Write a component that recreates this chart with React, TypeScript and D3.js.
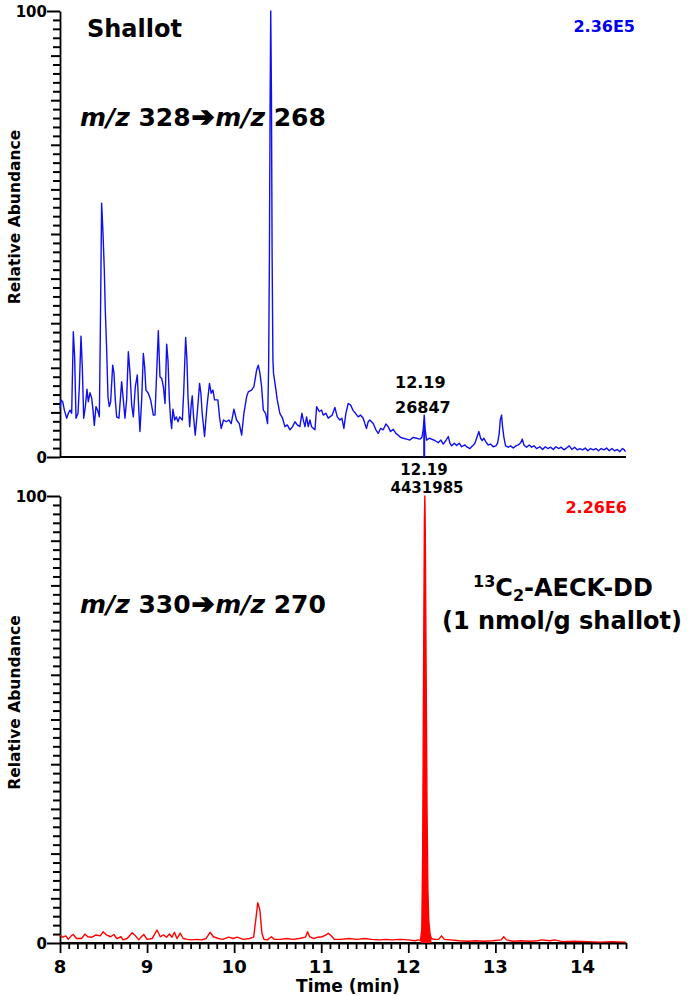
import React, { useEffect, useRef } from "react";
import * as d3 from "d3";

// ---------- DATA ----------
// Top chromatogram: m/z 328 -> m/z 268 (Shallot), [time (min), relative abundance %]
const topTrace: [number, number][] = [
  [8.0, 10.9], [8.011, 12.8], [8.031, 12.4], [8.05, 10.5], [8.077, 8.7], [8.096, 9.8], [8.115, 10.5], [8.134, 9.8],
  [8.153, 28.1], [8.168, 22.5], [8.184, 8.7], [8.207, 9.8], [8.222, 15.8], [8.241, 27.1], [8.256, 20.3], [8.272, 8.7],
  [8.291, 11.3], [8.31, 15.2], [8.325, 12.4], [8.344, 14.4], [8.364, 13.2], [8.379, 10.5], [8.394, 7.1], [8.413, 11.3],
  [8.432, 10.5], [8.452, 9.0], [8.463, 27.7], [8.478, 56.9], [8.494, 50.1], [8.509, 41.9], [8.52, 33.0], [8.536, 24.0],
  [8.551, 13.5], [8.566, 11.3], [8.582, 12.4], [8.605, 20.6], [8.62, 18.8], [8.635, 12.8], [8.651, 9.0], [8.677, 8.7],
  [8.708, 16.9], [8.727, 12.8], [8.746, 8.7], [8.765, 12.8], [8.785, 23.6], [8.804, 18.8], [8.823, 11.7], [8.842, 9.0],
  [8.865, 15.8], [8.888, 18.4], [8.903, 11.3], [8.918, 5.7], [8.938, 12.8], [8.957, 23.2], [8.972, 20.3], [8.987, 15.0],
  [9.014, 14.3], [9.041, 12.8], [9.072, 9.4], [9.091, 9.4], [9.11, 18.8], [9.129, 28.3], [9.148, 18.0], [9.168, 17.6],
  [9.187, 15.8], [9.206, 12.0], [9.225, 25.3], [9.24, 21.7], [9.256, 12.8], [9.271, 8.3], [9.282, 6.4], [9.297, 10.7],
  [9.317, 8.3], [9.336, 9.0], [9.355, 7.9], [9.374, 9.0], [9.405, 8.3], [9.42, 14.3], [9.443, 26.8], [9.458, 21.7],
  [9.47, 13.5], [9.489, 6.8], [9.508, 12.0], [9.519, 13.7], [9.534, 9.0], [9.553, 4.9], [9.576, 9.8], [9.603, 16.5],
  [9.618, 14.3], [9.633, 9.8], [9.66, 4.6], [9.687, 11.3], [9.717, 16.5], [9.736, 14.3], [9.756, 15.0], [9.775, 12.8],
  [9.813, 12.8], [9.832, 9.0], [9.851, 6.4], [9.878, 8.3], [9.909, 7.9], [9.94, 8.3], [9.966, 7.5], [9.997, 10.7],
  [10.028, 8.3], [10.059, 7.5], [10.086, 4.9], [10.112, 9.8], [10.143, 13.5], [10.162, 14.6], [10.2, 15.0], [10.227, 15.8],
  [10.258, 19.5], [10.277, 20.6], [10.296, 18.8], [10.315, 15.8], [10.335, 10.5], [10.361, 9.8], [10.384, 7.5],
  [10.396, 20.3], [10.405, 45.0], [10.413, 80.0], [10.42, 100.0], [10.428, 82.0], [10.436, 45.0], [10.445, 22.0],
  [10.452, 18.8], [10.48, 15.0], [10.495, 12.8], [10.525, 9.8], [10.556, 8.7], [10.583, 6.8], [10.61, 7.2], [10.641, 6.1],
  [10.671, 6.8], [10.698, 7.9], [10.725, 7.2], [10.755, 6.8], [10.778, 9.8], [10.794, 8.3], [10.813, 6.8], [10.832, 9.0],
  [10.851, 6.8], [10.87, 8.3], [10.889, 6.8], [10.928, 6.1], [10.947, 11.3], [10.977, 10.2], [11.004, 10.5], [11.023, 9.4],
  [11.054, 9.8], [11.08, 8.7], [11.099, 9.0], [11.126, 9.4], [11.157, 11.1], [11.184, 9.0], [11.214, 8.3], [11.237, 8.7],
  [11.26, 6.4], [11.283, 9.8], [11.31, 12.0], [11.336, 11.7], [11.367, 10.4], [11.394, 9.8], [11.424, 9.0], [11.451, 9.4],
  [11.482, 8.7], [11.501, 7.5], [11.52, 6.4], [11.539, 7.9], [11.558, 8.3], [11.597, 7.5], [11.628, 6.1], [11.655, 5.3],
  [11.681, 6.4], [11.712, 6.1], [11.743, 7.4], [11.769, 6.8], [11.796, 5.7], [11.827, 6.2], [11.857, 5.3], [11.884, 4.9],
  [11.911, 4.4], [11.942, 4.2], [11.98, 4.0], [12.018, 3.8], [12.056, 4.4], [12.095, 4.2], [12.133, 4.0], [12.156, 4.4],
  [12.171, 6.1], [12.183, 9.4], [12.194, 6.1], [12.21, 3.8], [12.24, 4.2], [12.267, 4.0], [12.305, 3.7], [12.344, 3.2],
  [12.374, 3.8], [12.401, 2.9], [12.432, 3.7], [12.459, 4.6], [12.478, 3.1], [12.497, 2.5], [12.528, 3.1], [12.555, 2.6],
  [12.585, 3.1], [12.612, 2.3], [12.65, 2.7], [12.677, 2.2], [12.708, 1.9], [12.738, 2.5], [12.765, 3.1], [12.791, 4.6],
  [12.811, 5.7], [12.83, 4.2], [12.849, 3.7], [12.868, 4.2], [12.891, 3.4], [12.918, 2.7], [12.944, 2.9], [12.975, 2.3],
  [13.006, 2.5], [13.025, 3.1], [13.044, 5.3], [13.056, 8.3], [13.071, 9.4], [13.082, 6.8], [13.098, 4.4], [13.117, 2.5],
  [13.148, 2.2], [13.175, 2.5], [13.205, 2.0], [13.236, 2.5], [13.263, 2.7], [13.29, 3.2], [13.309, 4.0], [13.328, 2.7],
  [13.358, 2.2], [13.389, 2.7], [13.416, 2.2], [13.443, 2.5], [13.473, 1.9], [13.511, 2.3], [13.542, 1.7], [13.573, 2.3],
  [13.603, 1.9], [13.634, 2.2], [13.665, 1.7], [13.695, 2.3], [13.726, 1.9], [13.756, 2.2], [13.787, 1.6], [13.817, 2.0],
  [13.848, 2.5], [13.879, 1.7], [13.909, 2.2], [13.94, 1.6], [13.97, 1.9], [14.001, 1.6], [14.032, 2.0], [14.062, 1.4],
  [14.093, 1.9], [14.124, 1.6], [14.154, 1.9], [14.185, 1.4], [14.215, 1.9], [14.246, 1.6], [14.277, 2.0], [14.307, 1.4],
  [14.338, 1.9], [14.368, 1.4], [14.399, 1.7], [14.43, 1.2], [14.46, 1.9], [14.48, 1.6], [14.494, 1.2],
];

// Bottom chromatogram: m/z 330 -> m/z 270 (13C2-AECK-DD internal standard)
const bottomTrace: [number, number][] = [
  [8.0, 1.8], [8.033, 1.3], [8.067, 1.6], [8.095, 0.8], [8.129, 1.6], [8.152, 1.9], [8.19, 1.0], [8.248, 1.0],
  [8.286, 2.0], [8.319, 1.4], [8.367, 1.3], [8.414, 1.8], [8.462, 1.6], [8.495, 2.5], [8.533, 1.8], [8.581, 1.4],
  [8.619, 1.9], [8.652, 1.0], [8.7, 1.4], [8.724, 0.7], [8.771, 1.0], [8.829, 2.3], [8.867, 1.6], [8.905, 0.7],
  [8.929, 1.3], [8.962, 1.9], [9.0, 0.8], [9.057, 1.0], [9.114, 2.9], [9.152, 1.4], [9.19, 1.8], [9.224, 1.3],
  [9.257, 2.0], [9.286, 1.3], [9.314, 2.4], [9.343, 1.0], [9.381, 2.2], [9.414, 1.0], [9.462, 0.8], [9.51, 0.7],
  [9.571, 0.8], [9.629, 0.7], [9.676, 1.0], [9.724, 2.4], [9.762, 1.4], [9.819, 1.0], [9.867, 0.8], [9.938, 1.3],
  [9.986, 1.0], [10.033, 1.3], [10.105, 0.8], [10.176, 1.0], [10.224, 1.3], [10.248, 5.1], [10.271, 9.0],
  [10.295, 7.4], [10.319, 2.2], [10.343, 0.8], [10.381, 0.7], [10.429, 1.4], [10.462, 0.8], [10.533, 0.8],
  [10.605, 1.0], [10.676, 0.8], [10.748, 1.0], [10.819, 1.3], [10.843, 2.5], [10.867, 1.4], [10.914, 1.0],
  [10.962, 1.3], [11.01, 1.4], [11.057, 1.8], [11.081, 2.2], [11.114, 1.6], [11.152, 0.8], [11.224, 0.8],
  [11.319, 1.0], [11.41, 0.8], [11.505, 1.0], [11.576, 0.8], [11.671, 0.7], [11.743, 0.8], [11.81, 0.7],
  [11.905, 0.8], [12.0, 0.7], [12.076, 0.5], [12.11, 0.7], [12.14, 0.6], [12.155, 3.0], [12.165, 20.0],
  [12.175, 60.0], [12.185, 95.0], [12.19, 100.0], [12.195, 92.0], [12.205, 60.0], [12.215, 30.0], [12.225, 12.0],
  [12.235, 5.0], [12.25, 2.0], [12.265, 1.0], [12.3, 0.8], [12.348, 0.8], [12.381, 1.6], [12.414, 0.8],
  [12.486, 0.7], [12.581, 0.5], [12.676, 0.4], [12.771, 0.5], [12.867, 0.4], [12.967, 0.5], [13.067, 0.7],
  [13.095, 1.4], [13.129, 0.7], [13.2, 0.4], [13.295, 0.5], [13.39, 0.4], [13.486, 0.5], [13.533, 0.7],
  [13.629, 0.5], [13.676, 0.7], [13.771, 0.3], [13.914, 0.4], [14.057, 0.3], [14.2, 0.2], [14.343, 0.3],
  [14.494, 0.2],
];

const xTicks = [8, 9, 10, 11, 12, 13, 14];
const yTickLabels = [0, 100];
const topPeakRange: [number, number] = [12.165, 12.205];
const bottomPeakRange: [number, number] = [12.14, 12.27];
const topScale = "2.36E5";
const bottomScale = "2.26E6";
const topAnnot = ["12.19", "26847"];
const bottomAnnot = ["12.19", "4431985"];

// ---------- LAYOUT ----------
const W = 694;
const H = 996;
const X0 = 60;
const X1 = 626;
const TOP = { y100: 11, y0: 457 };
const BOT = { y100: 496, y0: 943 };
const FONT = "'DejaVu Sans', Verdana, sans-serif";
const BLUE = "#1010ee";
const RED = "#ff0000";

const x = d3.scaleLinear().domain([8, 14.5]).range([X0, X1]);

function Panel({ geom, data, color, peakRange, showXAxis }: any) {
  const y = d3.scaleLinear().domain([0, 100]).range([geom.y0, geom.y100]);
  const yAxisRef = useRef<SVGGElement>(null);
  const xAxisRef = useRef<SVGGElement>(null);
  const line = d3.line<[number, number]>().x((d) => x(d[0])).y((d) => y(d[1]));
  const area = d3
    .area<[number, number]>()
    .x((d) => x(d[0]))
    .y0(y(0))
    .y1((d) => y(d[1]));
  const peak = data.filter((d: [number, number]) => d[0] >= peakRange[0] && d[0] <= peakRange[1]);

  useEffect(() => {
    if (yAxisRef.current) {
      const g = d3.select(yAxisRef.current);
      g.selectAll("*").remove();
      const ax = d3
        .axisLeft(y)
        .tickValues(d3.range(0, 101, 2))
        .tickSize(8)
        .tickSizeOuter(0)
        .tickFormat(() => "");
      g.call(ax as any);
      g.selectAll(".tick line")
        .attr("x2", (d: any) => (d === 0 || d === 100 ? -13 : d % 10 === 0 ? -9 : -7))
        .attr("stroke", "#000")
        .attr("stroke-width", 2);
      g.select(".domain").attr("stroke", "#000").attr("stroke-width", 1.8);
    }
    if (xAxisRef.current) {
      const g = d3.select(xAxisRef.current);
      g.selectAll("*").remove();
      const ax = d3
        .axisBottom(x)
        .tickValues(d3.range(80, 146, 1).map((v) => v / 10))
        .tickSize(6)
        .tickSizeOuter(0)
        .tickFormat(() => "");
      g.call(ax as any);
      g.selectAll(".tick line")
        .attr("y2", (d: any) => (Math.abs(d - Math.round(d)) < 1e-6 ? 10 : 6))
        .attr("stroke", "#000")
        .attr("stroke-width", 1.8);
      g.select(".domain").attr("stroke", "#000").attr("stroke-width", 1.8);
    }
  });

  return (
    <g>
      <g ref={yAxisRef} transform={`translate(${X0},0)`} />
      {yTickLabels.map((t) => (
        <text key={t} x={X0 - 13} y={y(t) + 5.5} textAnchor="end" fontFamily={FONT} fontWeight="bold" fontSize={15}>
          {t}
        </text>
      ))}
      <path d={`M${X0},${y(0)}H${X1}`} stroke="#000" strokeWidth={1.8} fill="none" />
      {showXAxis && (
        <g>
          <g ref={xAxisRef} transform={`translate(0,${y(0)})`} />
          {xTicks.map((t) => (
            <text key={t} x={x(t)} y={y(0) + 30} textAnchor="middle" fontFamily={FONT} fontWeight="bold" fontSize={18}>
              {t}
            </text>
          ))}
        </g>
      )}
      <path d={area(peak) || ""} fill={color} stroke="none" />
      <path d={line(data) || ""} fill="none" stroke={color} strokeWidth={1.4} strokeLinejoin="round" />
      <text
        transform={`translate(20, ${(geom.y0 + geom.y100) / 2 - 17}) rotate(-90)`}
        textAnchor="middle"
        fontFamily={FONT}
        fontWeight="bold"
        fontSize={15.5}
      >
        Relative Abundance
      </text>
    </g>
  );
}

export default function App() {
  useEffect(() => {
    document.body.style.margin = "0";
  }, []);
  const bold = { fontFamily: FONT, fontWeight: "bold" as const };
  const arrow = (
    <tspan stroke="#000" strokeWidth={1.6} fontSize={27} dx={1}>➔</tspan>
  );
  return (
    <svg width={W} height={H} style={{ display: "block", background: "#fff" }}>
      <rect width={W} height={H} fill="#fff" />
      <Panel geom={TOP} data={topTrace} color={BLUE} peakRange={topPeakRange} showXAxis={false} />
      <Panel geom={BOT} data={bottomTrace} color={RED} peakRange={bottomPeakRange} showXAxis={true} />

      {/* top panel texts */}
      <text x={87} y={37} fontSize={24} {...bold}>Shallot</text>
      <text x={80} y={126} fontSize={25} {...bold}>
        <tspan fontStyle="italic">m/z</tspan> 328{arrow}<tspan fontStyle="italic" dx={1}>m/z</tspan> 268
      </text>
      <text x={635} y={32} textAnchor="end" fontSize={16} fill="#0000ee" {...bold}>{topScale}</text>
      <text x={395} y={388} fontSize={16} {...bold}>{topAnnot[0]}</text>
      <text x={395} y={413} fontSize={16} {...bold}>{topAnnot[1]}</text>

      {/* bottom panel texts */}
      <text x={424} y={475} textAnchor="middle" fontSize={15} {...bold}>{bottomAnnot[0]}</text>
      <text x={427} y={493} textAnchor="middle" fontSize={15} {...bold}>{bottomAnnot[1]}</text>
      <text x={627} y={513} textAnchor="end" fontSize={16} fill={RED} {...bold}>{bottomScale}</text>
      <text x={80} y={613} fontSize={25} {...bold}>
        <tspan fontStyle="italic">m/z</tspan> 330{arrow}<tspan fontStyle="italic" dx={1}>m/z</tspan> 270
      </text>
      <text x={563} y={596} textAnchor="middle" fontSize={24} {...bold}>
        <tspan fontSize={16} dy={-9}>13</tspan>
        <tspan dy={9}>C</tspan>
        <tspan fontSize={16} dy={5}>2</tspan>
        <tspan dy={-5}>-AECK-DD</tspan>
      </text>
      <text x={562} y={629} textAnchor="middle" fontSize={24} {...bold}>(1 nmol/g shallot)</text>

      <text x={348} y={992} textAnchor="middle" fontSize={17} {...bold}>Time (min)</text>
    </svg>
  );
}
